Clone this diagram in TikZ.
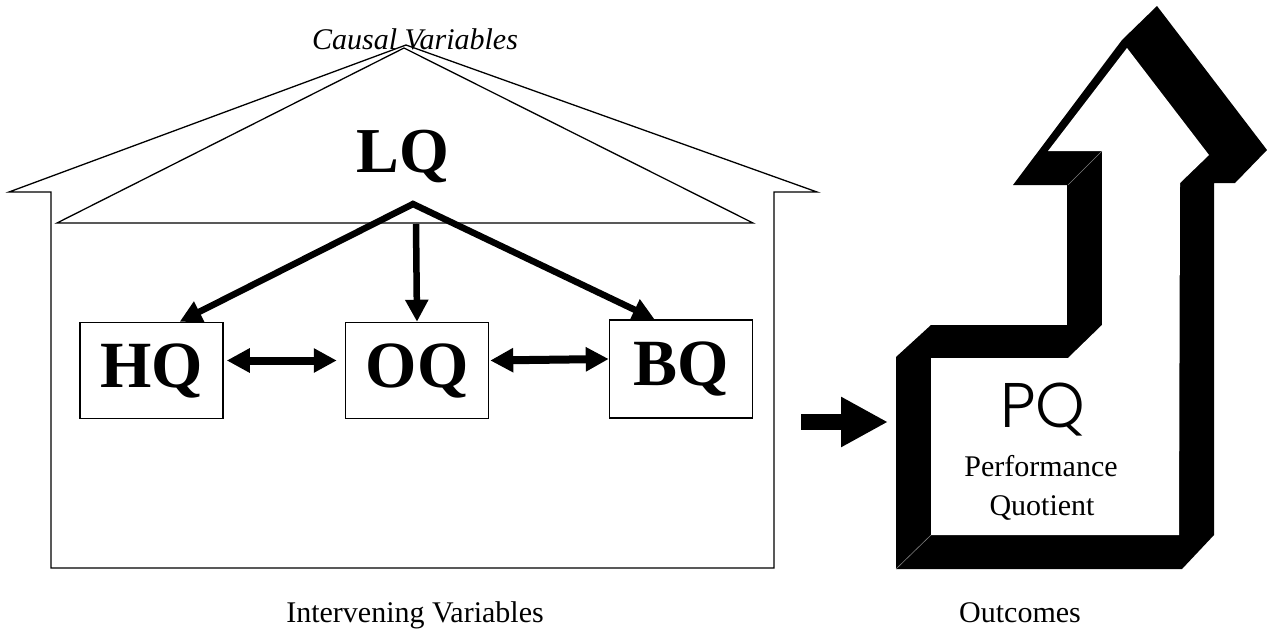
\documentclass[tikz,border=0pt]{standalone}
\usepackage{fontspec}
\setmainfont{Liberation Serif}
\newfontfamily\pqfont{Poppins Light}
\usetikzlibrary{arrows.meta}

\begin{document}
\begin{tikzpicture}[x=1pt,y=-1pt,
    roofline/.style={line width=1.3pt},
    qbox/.style={draw,line width=1.5pt,inner sep=0pt,minimum width=143pt,minimum height=96pt,font=\fontsize{66}{66}\selectfont\bfseries},
    lbl/.style={anchor=base,font=\fontsize{30}{36}\selectfont},
    bigarrow/.style={line width=6.5pt,line join=miter},
    twoway/.style={line width=8pt,{Triangle[length=23pt,width=23pt]}-{Triangle[length=23pt,width=23pt]}}
  ]
  \useasboundingbox (0,0) rectangle (1267,629);

  % house
  \draw[roofline] (9,192) -- (51,192) -- (51,568) -- (774,568) -- (774,192) -- (817,192) -- (406,45) -- cycle;
  \draw[roofline] (57,223) -- (404,48) -- (753,223) -- cycle;

  \node[lbl,font=\fontsize{30}{36}\selectfont\itshape] (causal) at (415,49) {Causal Variables};
  \node[anchor=base,font=\fontsize{64}{64}\selectfont\bfseries] (lq) at (403,172) {LQ};

  \coordinate (apex) at (413,204);
  \coordinate (base) at (416,224);

  \node[qbox] (hq) at (151.5,370.5) {HQ};
  \node[qbox] (oq) at (417,370.5) {OQ};
  \node[qbox,minimum height=98pt] (bq) at (681,369) {BQ};

  \draw[bigarrow,{Triangle[length=22pt,width=22pt]}-{Triangle[length=22pt,width=22pt]}] (hq.60) -- (apex) -- (bq.118);
  \draw[bigarrow,-{Triangle[length=22pt,width=22pt]}] (base) -- (oq.north);

  \draw[twoway,shorten <=3pt,shorten >=8pt] ([yshift=10pt]hq.east) -- ([yshift=10pt]oq.west);
  \draw[twoway,shorten <=1pt] ([yshift=10pt]oq.east) -- ([yshift=10pt]bq.west);

  \node[lbl] (interv) at (415,622) {Intervening Variables};

  % flow into PQ
  \coordinate (flowA) at (801,422);
  \coordinate (flowB) at (888,422);
  \draw[line width=16pt,-{Triangle[length=47pt,width=47pt]}] (flowA) -- (flowB);

  % PQ arrow
  \fill (896,569) -- (1182,569) -- (1214,535) -- (1214,183) -- (1235,183) -- (1267,150) -- (1157,6) -- (1122,40)
    -- (1013,185) -- (1067,185) -- (1067,325) -- (931,325) -- (896,357) -- cycle;
  \fill[white] (931,358) -- (1068,358) -- (1102,325) -- (1102,151) -- (1048,151) -- (1127,48) -- (1209,155)
    -- (1180,183) -- (1179,535) -- (931,535) -- cycle;
  \draw[gray,line width=0.6pt] (896,569) -- (931,535);
  \draw[gray,line width=0.6pt] (1068,185) -- (1102,151);

  \node[anchor=base,font=\pqfont\fontsize{63}{63}\selectfont] (pq) at (1043,427) {PQ};
  \node[lbl] (perf) at (1041,476) {Performance};
  \node[lbl] (quot) at (1042,515) {Quotient};
  \node[lbl] (outc) at (1020,622) {Outcomes};
\end{tikzpicture}
\end{document}
